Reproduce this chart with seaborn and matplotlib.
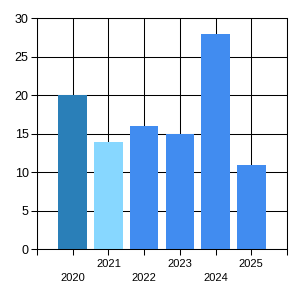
import matplotlib
matplotlib.use("Agg")
import matplotlib.pyplot as plt
import seaborn as sns

years = ["2020", "2021", "2022", "2023", "2024", "2025"]
values = [20, 14, 16, 15, 28, 11]
bar_colors = ["#2A7FB8", "#87D7FF", "#418CF0", "#418CF0", "#418CF0", "#418CF0"]
y_ticks = [0, 5, 10, 15, 20, 25, 30]

sns.set_style("white")
plt.rcParams["font.family"] = ["Liberation Sans", "DejaVu Sans"]

fig = plt.figure(figsize=(3, 3), dpi=100)
ax = fig.add_axes([0.1233, 0.169, 0.8334, 0.770])

sns.barplot(x=years, y=values, hue=years, palette=bar_colors, legend=False,
            width=0.8, saturation=1, linewidth=0, ax=ax)

ax.set_axisbelow(True)
ax.set_xlim(-1, len(years))
ax.set_ylim(0, 30)
ax.set_yticks(y_ticks)

# ticks on every grid line, labels staggered in two rows
ax.set_xticks(range(-1, len(years) + 1))
labels = [""] + [("\n" + y if i % 2 == 0 else y) for i, y in enumerate(years)] + [""]
ax.set_xticklabels(labels)
for t in ax.get_xticklabels():
    t.set_linespacing(1.5)

ax.grid(True, color="black", linewidth=0.75)
for s in ax.spines.values():
    s.set_color("black")
    s.set_linewidth(0.75)
ax.tick_params(axis="both", length=4, width=0.75, color="black",
               labelcolor="black", bottom=True, left=True)
ax.tick_params(axis="x", labelsize=8, pad=3)
ax.tick_params(axis="y", labelsize=9, pad=2)
ax.set_xlabel("")
ax.set_ylabel("")

fig.savefig("out.png", dpi=100)
